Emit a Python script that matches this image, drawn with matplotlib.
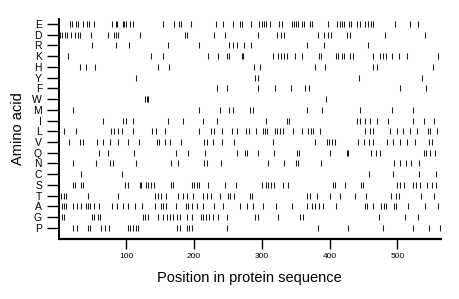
import matplotlib
matplotlib.use("Agg")
import matplotlib.pyplot as plt

plt.rcParams['font.family'] = ['Liberation Sans', 'DejaVu Sans']

# residue positions, one list per amino acid
E = [16, 19.5, 25, 28, 36, 42, 45, 52, 79, 84, 86, 95, 97, 100, 106, 109, 154, 170, 177, 180, 196,
     232, 243, 257, 268, 271, 284, 296, 300, 303, 306, 312, 326, 329, 345, 348, 351, 354, 359, 362,
     371, 374, 397, 411, 415, 418, 421, 428, 432, 440, 445, 452, 457, 461, 464, 497, 519, 530]
D = [2, 5, 9, 12.5, 18, 24, 29, 32, 47.5, 73.5, 81, 85, 88, 119.5, 186, 190, 230, 245, 295, 323,
     328, 333, 383, 392, 397, 402, 426, 430, 482, 541]
R = [49, 84, 104, 161, 207, 251, 257, 264, 273, 284, 366, 391, 457]
K = [14, 136, 154, 221, 235, 249, 252, 270, 272, 316, 324, 328, 332, 337, 349, 359, 384, 387, 409,
     413, 418, 421, 430, 435, 464, 474, 479, 483, 492, 503, 515, 560]
H = [32, 40.6, 54, 147, 162.6, 288.6, 297.4, 378.3, 393.6, 464, 469.6, 552]
Y = [114.4, 289.3, 294.5, 444, 537]
F = [233.5, 248.3, 293.8, 319, 342.4, 364, 369.8, 504, 542.5]
W = [127, 130, 132.5, 395]
M = [21, 207.7, 238.8, 251.7, 256.8, 282.2, 287, 366.5, 388.6, 445.3, 492.7, 523.7]
I = [65.7, 94.5, 99.6, 109.5, 161.9, 184, 212.4, 234, 306, 337.3, 340, 439.8, 445, 452.5, 459, 470,
     486.6, 523.7, 539.5, 554.3]
L = [8.1, 25.8, 77.5, 81.9, 87.1, 93.7, 110, 137.6, 143.2, 157.2, 207.8, 224.7, 229.2, 240.9, 255.6,
     263.9, 276.8, 281.2, 291.5, 301.4, 304.8, 308.2, 319.6, 323, 327, 331.8, 346.6, 358.7, 368.7,
     372.1, 375.6, 386, 451.7, 459.8, 464.2, 488.6, 499.6, 508.9, 518.8, 529.2, 544.6, 548.3, 558.2]
V = [15.9, 31.7, 35.7, 56.4, 66.1, 76, 88.3, 103, 118.1, 144.6, 148.6, 157.2, 164.6, 180.4, 215.2,
     218.5, 227.3, 241.6, 259.5, 317, 378.6, 395.9, 399.7, 403.2, 408.1, 442.5, 451, 458.3, 464.6,
     484.4, 494.2, 504, 514, 526.2, 547.3, 550.8]
Q = [59.5, 73.1, 111.1, 173.6, 191.4, 216.7, 263.5, 274.8, 277.8, 293.7, 317.6, 351.6, 355.3, 400,
     425.1, 427.6, 460.5, 467.9, 474.1, 539, 542.7, 548.8, 555.7]
N = [21, 54.7, 75.6, 80.9, 113.7, 165.3, 175.6, 214.8, 219.2, 240.3, 309.7, 333.1, 349.8, 353.5,
     386.7, 494.8, 504.5, 512.6, 520.6, 532.4]
C = [33.2, 93.3, 458.3, 494.2, 531.7, 557.5]
S = [1, 21.4, 24.4, 32.5, 36.2, 97.7, 102.6, 119.9, 122.2, 129.6, 132.5, 136.5, 140.2, 166, 168.6,
     196.3, 200, 203.7, 207.4, 221, 245, 262, 300, 305.5, 309.2, 312.9, 317.3, 330.9, 338, 404.4,
     408.4, 423.2, 445.8, 449.4, 499.2, 504, 509.9, 522.9, 527.7, 533.6, 543.9, 550.6, 557.2]
T = [3.7, 7.1, 11.1, 43.5, 88.3, 142.9, 146.4, 151.3, 158.7, 176.7, 183, 188.9, 197.8, 213.6, 218.5,
     224.4, 237.6, 249.4, 252.4, 259, 282.7, 286.1, 366.3, 370.5, 381.3, 400.4, 415.8, 437.9, 453.9,
     490, 498.2, 502.6, 535.4, 554.2]
A = [4.7, 8.1, 11.1, 21.8, 26.9, 33.2, 40.6, 44, 46.5, 51.4, 60.2, 78.5, 85.9, 95.6, 103, 112.9,
     122.8, 142.4, 150.8, 154.7, 158.7, 173.4, 188.2, 191.6, 196.6, 204, 212.8, 229.5, 242.4, 267.9,
     277.8, 286.6, 302.3, 321, 343.9, 366.1, 373.7, 378.9, 383.8, 390.4, 409.2, 451.7, 455.4, 464.2,
     476, 479.7, 483.4, 494.5, 498.2, 516.3, 541.4, 559.4]
G = [4.4, 8.1, 49.4, 52.4, 58, 61.3, 124.7, 128.1, 132.1, 146.1, 154.7, 159.4, 164.6, 169, 174.9,
     179.3, 188.9, 196.6, 209.6, 213.7, 217.7, 222.6, 228, 235.9, 248.3, 290, 294.4, 324.4, 356.8,
     360.9, 472.6, 511.9, 529.9]
P = [21.8, 26.9, 43.1, 46.5, 62.7, 67.9, 74.5, 102.1, 105.5, 109.5, 114.4, 117.3, 174.2, 178.6,
     188.9, 193.1, 197.1, 247.9, 382.3, 427.3, 478.2, 522.5, 546.5, 562.5]

labels = ['E', 'D', 'R', 'K', 'H', 'Y', 'F', 'W', 'M', 'I', 'L', 'V', 'Q', 'N', 'C', 'S', 'T', 'A', 'G', 'P']
rows = [E, D, R, K, H, Y, F, W, M, I, L, V, Q, N, C, S, T, A, G, P]
seq_len = 564

fig = plt.figure(figsize=(4.6, 2.99), dpi=100)
ax = fig.add_axes([0.1276, 0.2007, 0.8304, 0.7369])

n = len(labels)
for i, pos in enumerate(rows):
    y = n - 1 - i
    ax.vlines(pos, y - 0.28, y + 0.28, color='#1a1a1a', linewidth=0.75)

ax.set_xlim(0, seq_len)
ax.set_ylim(-1.05, n - 0.5)
ax.set_yticks(range(n))
ax.set_yticklabels(labels[::-1], fontsize=7.5)
ax.set_xticks([100, 200, 300, 400, 500])
ax.tick_params(axis='y', length=9, width=1.0, pad=3)
ax.tick_params(axis='x', length=7, width=1.0, pad=3, labelsize=6)

for side in ['top', 'right']:
    ax.spines[side].set_visible(False)
ax.spines['left'].set_linewidth(1.4)
ax.spines['bottom'].set_linewidth(1.6)

ax.set_xlabel("Position in protein sequence", fontsize=10.5, labelpad=8)
ax.set_ylabel("Amino acid", fontsize=10.5, labelpad=5)

fig.savefig("out.png", dpi=100)
